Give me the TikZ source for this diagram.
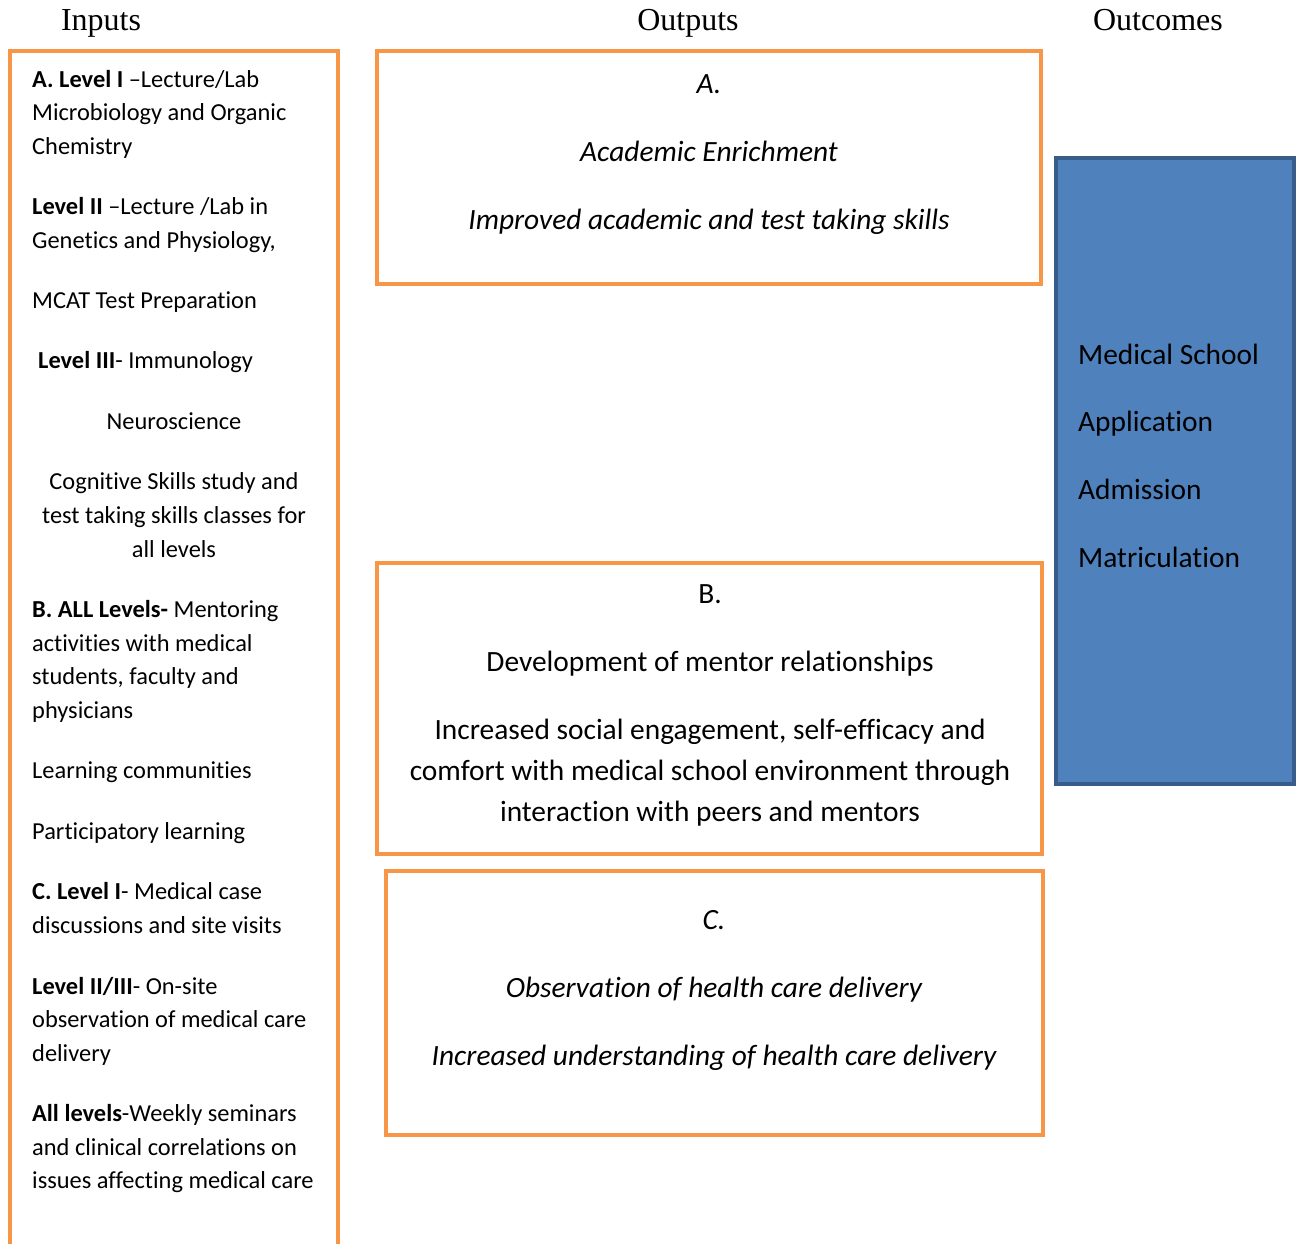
\documentclass[tikz,border=0pt]{standalone}
\usepackage{fontspec}
\setmainfont{Carlito}[Ligatures=NoCommon]
\newfontfamily\tnr{Liberation Serif}
\definecolor{orng}{HTML}{F79646}
\definecolor{bfill}{HTML}{4F81BD}
\definecolor{bline}{HTML}{385D8A}
\tikzset{
  obox/.style={draw=orng, line width=4.5pt},
  hdr/.style={anchor=base, inner sep=0pt, font=\tnr\fontsize{32}{36}\selectfont},
  inp/.style={anchor=base west, inner sep=0pt, font=\fontsize{24.4}{28}\selectfont},
  inpc/.style={anchor=base, inner sep=0pt, font=\fontsize{24.4}{28}\selectfont},
  outt/.style={anchor=base, inner sep=0pt, font=\fontsize{29.4}{33}\selectfont},
  outi/.style={outt, font=\fontsize{29.4}{33}\selectfont\itshape},
  outc/.style={anchor=base west, inner sep=0pt, font=\fontsize{29.4}{33}\selectfont},
}
\begin{document}
\begin{tikzpicture}[x=1pt,y=-1pt]
\path[use as bounding box, clip] (0,0) rectangle (1297,1243);
% headers
\node[hdr] (hin) at (101,30) {Inputs};
\node[hdr] (hout) at (688,30) {Outputs};
\node[hdr] (hoc) at (1158,30) {Outcomes};
% boxes
\draw[obox] (10,51) rectangle (338,1270);
\draw[obox] (377,51) rectangle (1041,284);
\draw[obox] (377,563) rectangle (1042,854);
\draw[obox] (386,871) rectangle (1043,1135);
\draw[fill=bfill, draw=bline, line width=4pt] (1056,158) rectangle (1294,784);
% inputs text
\node[inp] (i1) at (32,87) {\textbf{A. Level I} –Lecture/Lab};
\node[inp] (i2) at (32,120) {Microbiology and Organic};
\node[inp] (i3) at (32,154) {Chemistry};
\node[inp] (i4) at (32,214) {\textbf{Level II} –Lecture /Lab in};
\node[inp] (i5) at (32,248) {Genetics and Physiology,};
\node[inp] (i6) at (32,308) {MCAT Test Preparation};
\node[inp] (i7) at (38,368) {\textbf{Level III}- Immunology};
\node[inpc] (i8) at (174,429) {Neuroscience};
\node[inpc] (i9) at (174,489) {Cognitive Skills study and};
\node[inpc] (i10) at (174,523) {test taking skills classes for};
\node[inpc] (i11) at (174,557) {all levels};
\node[inp] (i12) at (32,617) {\textbf{B. ALL Levels-} Mentoring};
\node[inp] (i13) at (32,651) {activities with medical};
\node[inp] (i14) at (32,684) {students, faculty and};
\node[inp] (i15) at (32,718) {physicians};
\node[inp] (i16) at (32,778) {Learning communities};
\node[inp] (i17) at (32,839) {Participatory learning};
\node[inp] (i18) at (32,899) {\textbf{C. Level I}- Medical case};
\node[inp] (i19) at (32,933) {discussions and site visits};
\node[inp] (i20) at (32,994) {\textbf{Level II/III}- On-site};
\node[inp] (i21) at (32,1027) {observation of medical care};
\node[inp] (i22) at (32,1061) {delivery};
\node[inp] (i23) at (32,1121) {\textbf{All levels}-Weekly seminars};
\node[inp] (i24) at (32,1155) {and clinical correlations on};
\node[inp] (i25) at (32,1188) {issues affecting medical care};
% output A
\node[outi] (a1) at (709,93) {A.};
\node[outi] (a2) at (709,161) {Academic Enrichment};
\node[outi] (a3) at (709,229) {Improved academic and test taking skills};
% output B
\node[outt] (b1) at (710,603) {B.};
\node[outt] (b2) at (710,671) {Development of mentor relationships};
\node[outt] (b3) at (710,739) {Increased social engagement, self-efficacy and};
\node[outt] (b4) at (710,780) {comfort with medical school environment through};
\node[outt] (b5) at (710,821) {interaction with peers and mentors};
% output C
\node[outi] (c1) at (714,929) {C.};
\node[outi] (c2) at (714,997) {Observation of health care delivery};
\node[outi] (c3) at (714,1065) {Increased understanding of health care delivery};
% outcomes
\node[outc] (o1) at (1078,364) {Medical School};
\node[outc] (o2) at (1078,431) {Application};
\node[outc] (o3) at (1078,499) {Admission};
\node[outc] (o4) at (1078,567) {Matriculation};
\end{tikzpicture}
\end{document}
